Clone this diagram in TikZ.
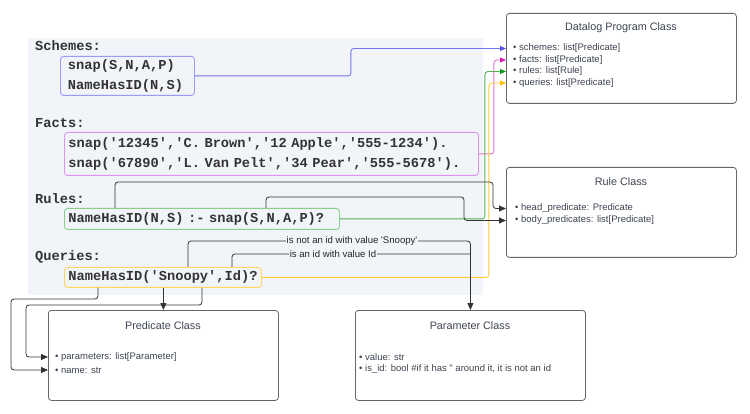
\documentclass[tikz,border=0pt]{standalone}
\usepackage{fontspec}
\setmainfont{Liberation Sans}[Ligatures=TeXOff]
\setmonofont{Liberation Mono}[Ligatures=TeXOff]
\usetikzlibrary{arrows.meta,calc}
\definecolor{panel}{HTML}{F1F4F8}
\definecolor{codetext}{HTML}{333333}
\definecolor{classtext}{HTML}{3D4450}
\definecolor{classborder}{HTML}{666666}
\definecolor{bluebox}{HTML}{9A9AF8}
\definecolor{blueline}{HTML}{7474F0}
\definecolor{bluetip}{HTML}{5555EE}
\definecolor{pinkbox}{HTML}{DC92EE}
\definecolor{pinkline}{HTML}{E870D4}
\definecolor{pinktip}{HTML}{E020B4}
\definecolor{greenbox}{HTML}{88CF88}
\definecolor{greenline}{HTML}{55B055}
\definecolor{greentip}{HTML}{1A961A}
\definecolor{yellowbox}{HTML}{FFD666}
\definecolor{yellowline}{HTML}{FFCC33}
\definecolor{yellowtip}{HTML}{FFC000}
\definecolor{blackline}{HTML}{333333}
\tikzset{
  codelbl/.style={font=\fontsize{13.7}{20}\selectfont\ttfamily\bfseries, text=codetext, anchor=west, inner sep=0pt},
  codebox/.style={rounded corners=3pt, line width=0.9pt, anchor=north west, align=left,
    font=\fontsize{13.7}{20}\selectfont\ttfamily\bfseries, text=codetext, inner ysep=0pt},
  classbox/.style={draw=classborder, rounded corners=3pt, line width=0.8pt, minimum width=230pt,
    minimum height=90pt, anchor=north west, inner sep=0pt},
  ctitle/.style={font=\fontsize{10.8}{13}\selectfont, text=classtext, inner sep=0pt},
  citem/.style={font=\fontsize{9.5}{11}\selectfont, text=classtext, anchor=west, inner sep=0pt},
  lbl/.style={font=\fontsize{9.6}{11}\selectfont, text=black!85, fill=panel, inner xsep=1pt, inner ysep=0.5pt},
  conn/.style={draw=blackline, line width=0.8pt, rounded corners=3pt},
  colconn/.style={line width=0.9pt, rounded corners=3pt},
  ctip/.style={-{Triangle[length=7pt,width=6pt]}},
  stip/.style={-{Triangle[length=6pt,width=5pt,color=#1]}}
}
\begin{document}
\begin{tikzpicture}[x=1pt,y=-1pt]
\useasboundingbox (0,0) rectangle (750,414);
\node[fill=panel, minimum width=455pt, minimum height=257pt, anchor=north west, inner sep=0pt] (panel) at (28,38) {};

% section labels
\node[codelbl] (lsch) at (35,46) {Schemes:};
\node[codelbl] (lfacts) at (35,123) {Facts:};
\node[codelbl] (lrules) at (35,199) {Rules:};
\node[codelbl] (lq) at (35,257) {Queries:};

% code boxes
\node[codebox, draw=bluebox, inner xsep=7.5pt, text width=119pt, minimum height=39pt] (schemes) at (60,56)
  {\mbox{snap(S,N,A,P)}\\\mbox{NameHasID(N,S)}};
\node[codebox, draw=pinkbox, inner xsep=4pt, text width=406pt, minimum height=43pt] (facts) at (64,132)
  {\mbox{snap('12345','C. Brown','12 Apple','555-1234').}\\\mbox{snap('67890','L. Van Pelt','34 Pear','555-5678').}};
\node[codebox, draw=greenbox, inner xsep=4pt, text width=267pt, minimum height=21pt] (rules) at (64,208)
  {\mbox{NameHasID(N,S) :- snap(S,N,A,P)?}};
\node[codebox, draw=yellowbox, inner xsep=4pt, text width=189pt, minimum height=20pt] (queries) at (64,267)
  {\mbox{NameHasID('Snoopy',Id)?}};

% class boxes
\node[classbox] (dpbox) at (506,13) {};
\node[ctitle] (dptitle) at (621,28) {Datalog Program Class};
\node[citem] (dpsch) at (513,48.5) {• schemes: list[Predicate]};
\node[citem] (dpfacts) at (513,60) {• facts: list[Predicate]};
\node[citem] (dprules) at (513,71.5) {• rules: list[Rule]};
\node[citem] (dpq) at (513,83) {• queries: list[Predicate]};

\node[classbox] (rbox) at (506,167) {};
\node[ctitle] (rtitle) at (621,182) {Rule Class};
\node[citem] (rhead) at (515,208.5) {• head\_predicate: Predicate};
\node[citem] (rbody) at (515,220.5) {• body\_predicates: list[Predicate]};

\node[classbox] (predbox) at (48,310) {};
\node[ctitle] (predtitle) at (163,326) {Predicate Class};
\node[citem] (pparams) at (55,357) {• parameters: list[Parameter]};
\node[citem] (pname) at (55,370) {• name: str};

\node[classbox] (parbox) at (355,310) {};
\node[ctitle] (partitle) at (470,326) {Parameter Class};
\node[citem] (parval) at (359,357.5) {• value: str};
\node[citem] (parid) at (359,369.5) {• is\_id: bool \#if it has " around it, it is not an id};

% coloured connectors to Datalog Program Class
\draw[colconn, draw=blueline, stip=bluetip] (schemes.east) -- ++(156,0) |- (dpbox.west |- dpsch);
\draw[colconn, draw=pinkline, stip=pinktip] (facts.east) -- ++(15,0) |- (dpbox.west |- dpfacts);
\draw[colconn, draw=greenline, stip=greentip] (rules.east) -- ++(145,0) |- (dpbox.west |- dprules);
\draw[colconn, draw=yellowline, stip=yellowtip] (queries.east) -- ++(227,0) |- (dpbox.west |- dpq);

% rule connectors
\draw[conn, ctip] ([xshift=51pt]rules.north west) |- (493,182) |- (rbox.west |- rhead);
\draw[conn, ctip] ([xshift=202pt]rules.north west) |- (464,197) |- (rbox.west |- rbody);

% query connectors to Parameter Class
\coordinate (pj1) at (parbox.north |- 0,241);
\coordinate (pj2) at (parbox.north |- 0,254);
\draw[conn, ctip] ([xshift=124pt]queries.north west) |- (pj1) -- (parbox.north);
\draw[conn] ([xshift=168pt]queries.north west) |- (pj2);
\node[lbl] (l1) at (352,241) {is not an id with value 'Snoopy'};
\node[lbl] (l2) at (333,254) {is an id with value Id};

% query connectors to Predicate Class
\draw[conn, ctip] (predbox.north |- queries.south) -- (predbox.north);
\draw[conn, ctip] ([xshift=138pt]queries.south west) |- (26,305) |- (predbox.west |- pparams);
\draw[conn, ctip] ([xshift=34pt]queries.south west) |- (11,299) |- (predbox.west |- pname);
\end{tikzpicture}
\end{document}
